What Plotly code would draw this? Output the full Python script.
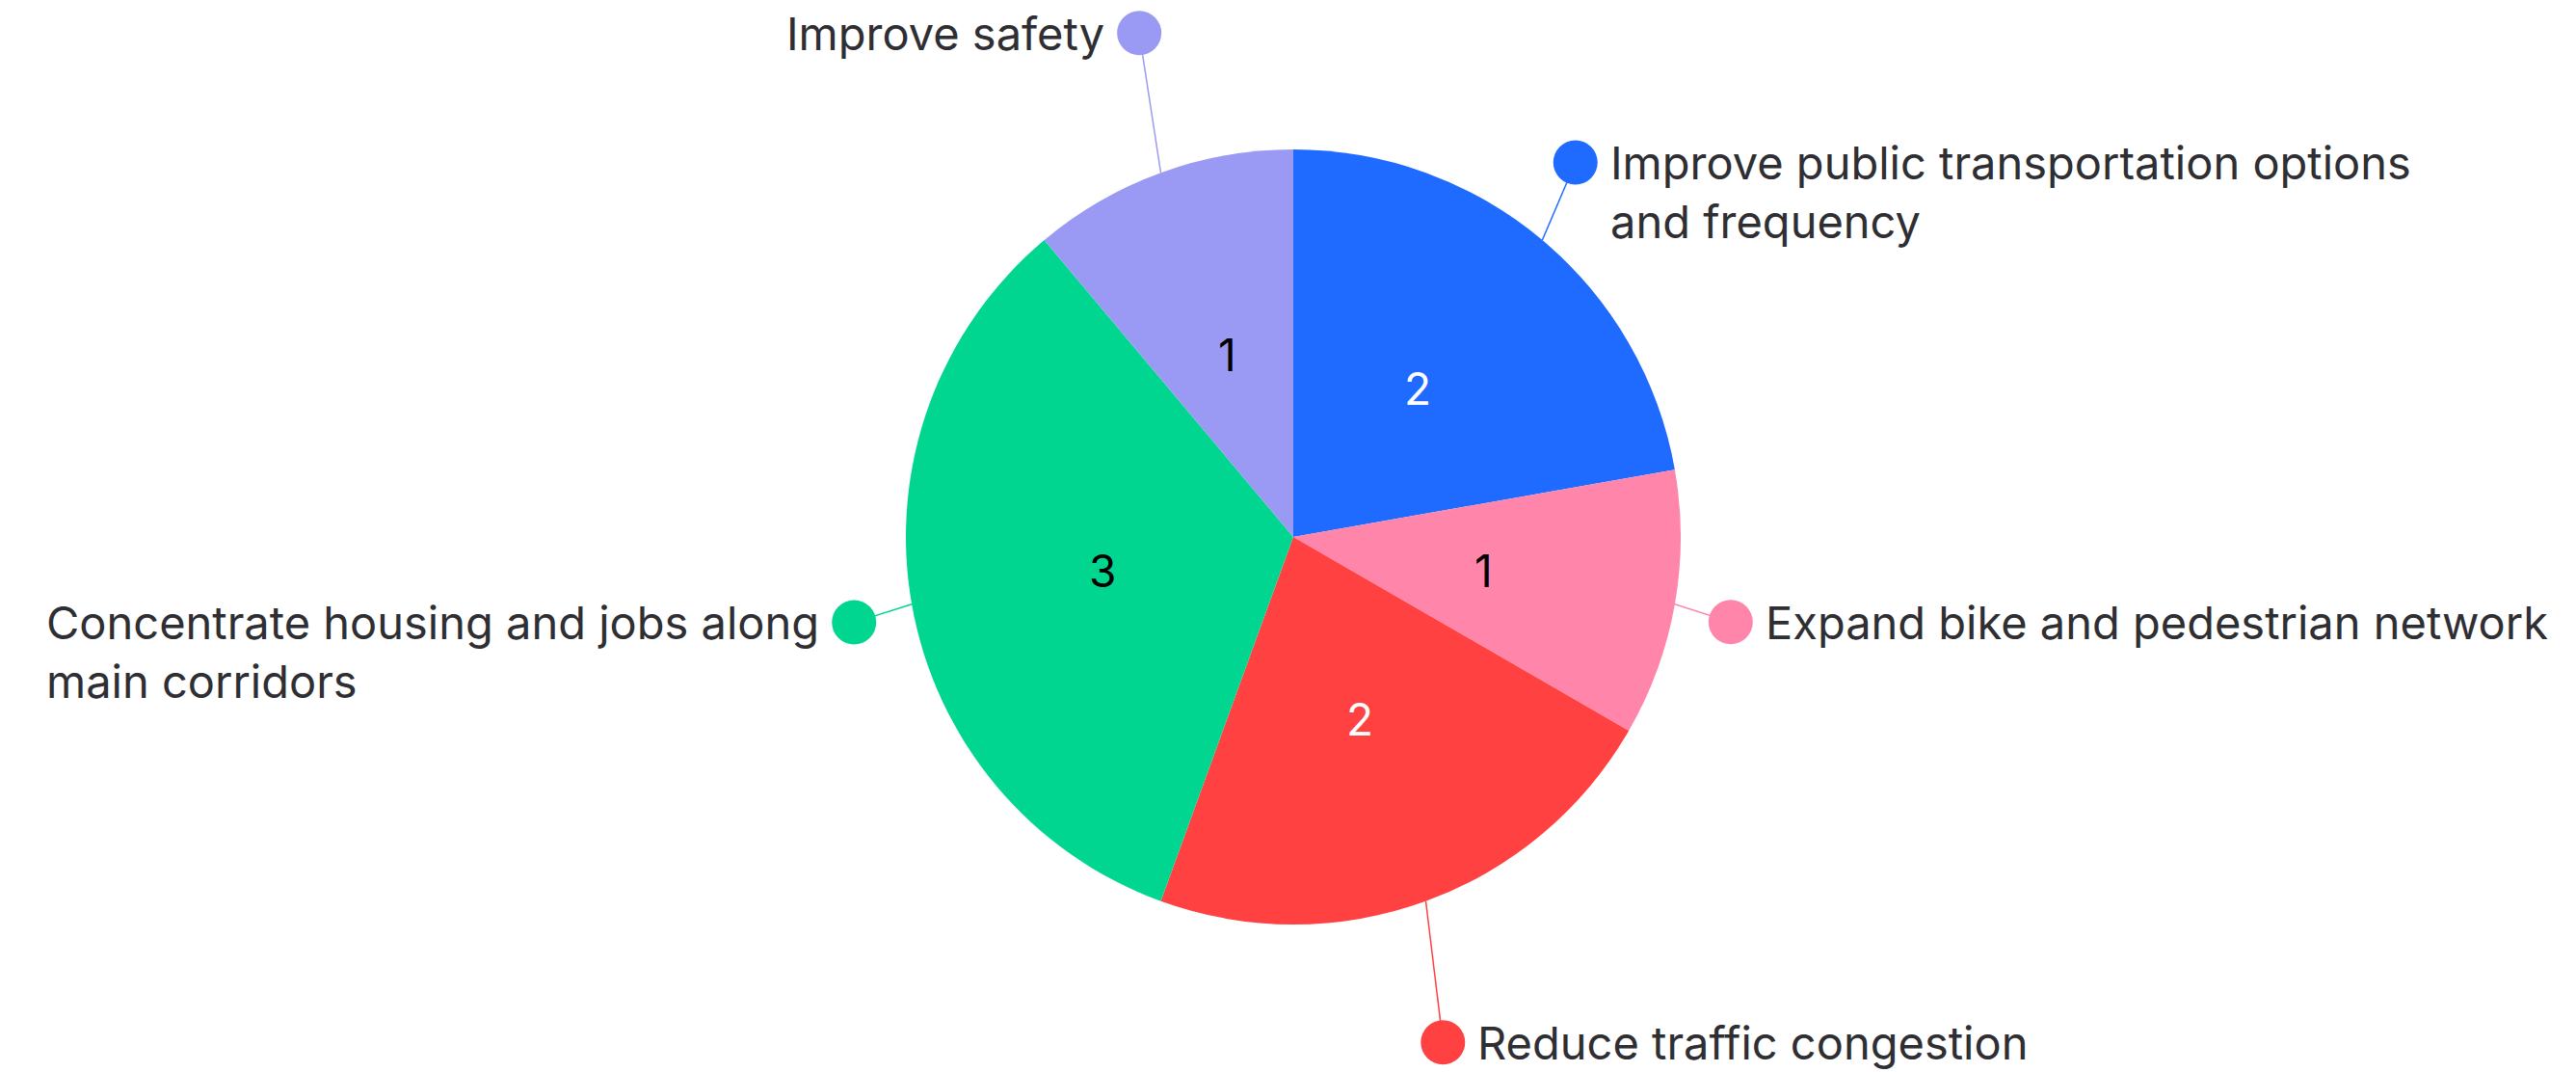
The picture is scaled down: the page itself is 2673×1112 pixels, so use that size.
import math
import plotly.graph_objects as go

# ---- data ----
categories = [
    "Improve public transportation options<br>and frequency",
    "Expand bike and pedestrian network",
    "Reduce traffic congestion",
    "Concentrate housing and jobs along<br>main corridors",
    "Improve safety",
]
values = [2, 1, 2, 3, 1]
colors = ["#1F6BFF", "#FF85AB", "#FF4141", "#00D68F", "#9A9AF4"]
text_colors = ["white", "black", "white", "black", "black"]

# ---- layout helpers (styling only) ----
W, H = 2673, 1112
CX, CY, R = 1342, 557, 402
label_k = [1.21, 1.15, 1.36, 1.155, 1.36]       # radial distance of label dots
label_dang = [-3, 1, 3.5, -1, 3]                 # angular nudge of label dots (deg)
VALUE_K = 0.5                                    # radial position of value text
DOT_R = 23
FONT = "Inter, Lato, sans-serif"
FS = 47

def px2x(px):
    return px / W

def py2y(py):
    return 1 - py / H

fig = go.Figure()
fig.add_trace(go.Pie(
    labels=[c.replace("<br>", " ") for c in categories],
    values=values,
    sort=False,
    direction="clockwise",
    rotation=0,
    marker=dict(colors=colors, line=dict(width=0)),
    textinfo="none",
    showlegend=False,
    hoverinfo="label+value",
    domain=dict(x=[px2x(CX - R), px2x(CX + R)], y=[py2y(CY + R), py2y(CY - R)]),
))

total = sum(values)
cum = 0
shapes = []
annotations = []
for i, (cat, v) in enumerate(zip(categories, values)):
    mid = (cum + v / 2) / total * 360
    cum += v
    a = math.radians(mid)
    # value label inside the slice
    vx, vy = CX + R * VALUE_K * math.sin(a), CY - R * VALUE_K * math.cos(a)
    annotations.append(dict(xref="paper", yref="paper", x=px2x(vx), y=py2y(vy),
                            xanchor="center", yanchor="middle", showarrow=False,
                            text=str(v),
                            font=dict(family=FONT, size=46, color=text_colors[i])))
    ex, ey = CX + R * math.sin(a), CY - R * math.cos(a)
    b = math.radians(mid + label_dang[i])
    k = label_k[i]
    dx, dy = CX + R * k * math.sin(b), CY - R * k * math.cos(b)
    shapes.append(dict(type="line", xref="paper", yref="paper",
                       x0=px2x(ex), y0=py2y(ey), x1=px2x(dx), y1=py2y(dy),
                       line=dict(color=colors[i], width=1.5), layer="below"))
    shapes.append(dict(type="circle", xref="paper", yref="paper",
                       x0=px2x(dx - DOT_R), x1=px2x(dx + DOT_R),
                       y0=py2y(dy + DOT_R), y1=py2y(dy - DOT_R),
                       fillcolor=colors[i], line=dict(width=0)))
    right = math.sin(b) > 0
    multiline = "<br>" in cat
    ann = dict(xref="paper", yref="paper",
               x=px2x(dx + (34 if right else -34)),
               xanchor="left" if right else "right",
               align="left",
               text=cat, showarrow=False,
               font=dict(family=FONT, size=FS, color="#2E2E33"))
    if multiline:
        ann.update(y=py2y(dy - 31), yanchor="top")
    else:
        ann.update(y=py2y(dy), yanchor="middle")
    annotations.append(ann)

fig.update_layout(
    width=W, height=H,
    margin=dict(l=0, r=0, t=0, b=0),
    paper_bgcolor="white", plot_bgcolor="white",
    shapes=shapes, annotations=annotations,
    font=dict(family=FONT),
)
fig.write_html("out.html")
